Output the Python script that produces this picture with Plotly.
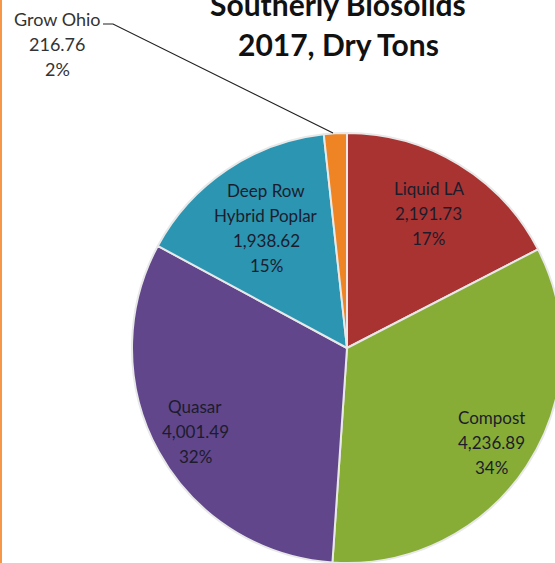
import math
import plotly.graph_objects as go

labels = ["Liquid LA", "Compost", "Quasar", "Deep Row\nHybrid Poplar", "Grow Ohio"]
values = [2191.73, 4236.89, 4001.49, 1938.62, 216.76]
colors = ["#a93331", "#87ad36", "#61468b", "#2b95b2", "#ee8424"]
title_lines = ["Southerly Biosolids", "2017, Dry Tons"]
# label distance from centre as fraction of radius (style only)
label_frac = [0.73, 0.805, 0.805, 0.675, None]

W, H = 565, 563          # page is 555 wide; pie is cut at the right like the reference
cx, cy, r = 347, 348, 215
LS = 25                  # line spacing in px


def add_lines(lines, x, yc, size, color, bold=False, spacing=LS):
    n = len(lines)
    for i, t in enumerate(lines):
        y = yc + (i - (n - 1) / 2) * spacing
        fig.add_annotation(
            text=f"<b>{t}</b>" if bold else t,
            xref="paper", yref="paper", x=x / W, y=1 - y / H,
            xanchor="center", yanchor="middle", showarrow=False,
            font=dict(family="Lato", size=size, color=color))


fig = go.Figure()
fig.add_trace(go.Pie(
    labels=[l.replace("\n", " ") for l in labels], values=values, sort=False,
    direction="clockwise", rotation=0,
    marker=dict(colors=colors, line=dict(color="#e8e8e8", width=2)),
    textinfo="none", showlegend=False, hoverinfo="label+value+percent",
    domain=dict(x=[(cx - r) / W, (cx + r) / W], y=[(H - cy - r) / H, (H - cy + r) / H]),
))

total = sum(values)
cum = 0.0
for lab, v, f in zip(labels, values, label_frac):
    mid = (cum + v / 2) / total
    cum += v
    if f is None:
        continue
    ang = 2 * math.pi * mid
    px = cx + f * r * math.sin(ang)
    py = cy - f * r * math.cos(ang)
    add_lines(lab.split("\n") + [f"{v:,.2f}", f"{v/total:.0%}"], px, py, 17, "#1c1c2c")

add_lines([labels[-1], f"{values[-1]:,.2f}", f"{values[-1]/total:.0%}"], 57, 44, 18, "#333333")

add_lines(title_lines, 338, 24, 30, "#111111", bold=True, spacing=40)

# leader line for Grow Ohio and left border
fig.add_shape(type="path", xref="paper", yref="paper",
              path=f"M {103/W} {1-24/H} L {113/W} {1-24/H} L {333/W} {1-133/H}",
              line=dict(color="#222222", width=1.2))
fig.add_shape(type="line", xref="paper", yref="paper", x0=1 / W, x1=1 / W, y0=0, y1=1,
              line=dict(color="#f79646", width=2))

fig.update_layout(width=W, height=H, margin=dict(l=0, r=0, t=0, b=0),
                  paper_bgcolor="white", plot_bgcolor="white",
                  xaxis=dict(visible=False), yaxis=dict(visible=False))
fig.write_html("out.html")
